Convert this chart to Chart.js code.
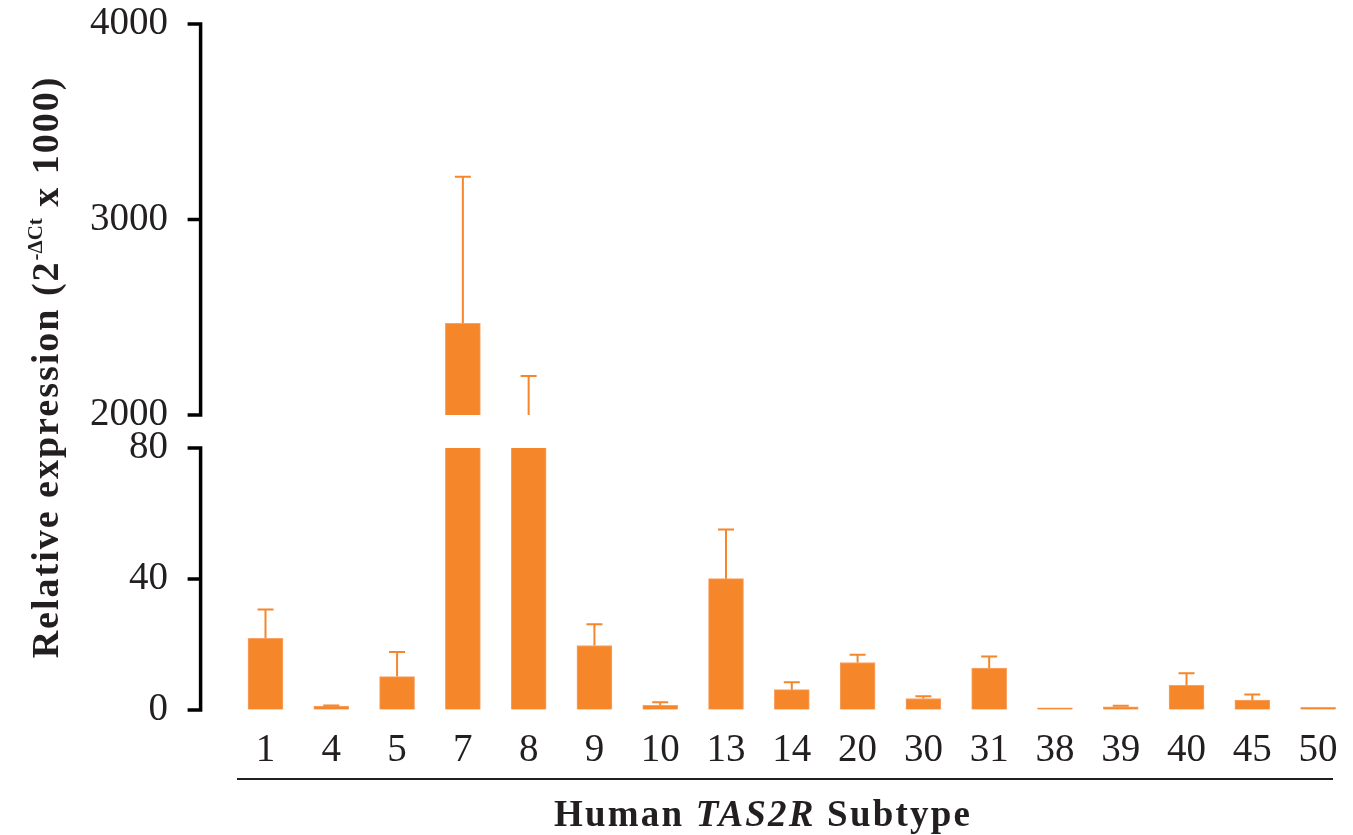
<!DOCTYPE html>
<html>
<head>
<meta charset="utf-8">
<script src="https://cdn.jsdelivr.net/npm/chart.js@4/dist/chart.umd.min.js"></script>
<style>
  html, body { margin: 0; padding: 0; background: #fff; }
  body { width: 1353px; height: 835px; position: relative; overflow: hidden; font-family: 'Liberation Serif', 'Times New Roman', serif; color: #231f20; }
  .box { position: absolute; left: 0; width: 1353px; }
  #top-box { top: 0; height: 440px; }
  #bottom-box { top: 400px; height: 435px; }
  #y-title { position: absolute; left: -265px; top: 342px; width: 600px; height: 50px; line-height: 50px;
             text-align: center; font-weight: bold; font-size: 38px; letter-spacing: 2px; transform: rotate(-90deg); white-space: nowrap; }
  #y-title sup { font-size: 0.55em; vertical-align: 0.75em; letter-spacing: 0; }
  #x-title { position: absolute; left: 463px; top: 794px; width: 600px; line-height: 40px; text-align: center;
             font-weight: bold; font-size: 37px; letter-spacing: 2.2px; white-space: nowrap; }
  #x-line { position: absolute; left: 237px; top: 778px; width: 1096px; height: 2px; background: #231f20; }
</style>
</head>
<body>
<div class="box" id="top-box"><canvas id="chart-top"></canvas></div>
<div class="box" id="bottom-box"><canvas id="chart-bottom"></canvas></div>
<div id="y-title">Relative expression (2<sup>-ΔCt</sup> x 1000)</div>
<div id="x-line"></div>
<div id="x-title">Human <i>TAS2R</i> Subtype</div>
<script>
// sous-types TAS2R et expression relative (moyenne + erreur)
const subtypes = ['1', '4', '5', '7', '8', '9', '10', '13', '14', '20', '30', '31', '38', '39', '40', '45', '50'];
const expression = [21.9, 1.2, 10.2, 2469, 1950, 19.7, 1.4, 40.1, 6.2, 14.5, 3.5, 12.8, 0.7, 1.0, 7.5, 3.0, 0.8];
const errors     = [8.8, 0.2, 7.5, 750, 249, 6.5, 1.0, 15.0, 2.3, 2.4, 0.7, 3.5, 0, 0.3, 3.7, 1.7, 0];

// axe coupé : deux segments
const upperTicks = [2000, 3000, 4000];
const lowerTicks = [0, 40, 80];

const orange = '#F5862A';
const orangeEdge = '#F8A266';
const ink = '#231f20';
const tickFont = { family: 'Liberation Serif', size: 39 };

// barres d'erreur (un seul côté, vers le haut)
const errorBars = {
  id: 'errorBars',
  afterDatasetsDraw(chart) {
    const { ctx, chartArea, scales: { x, y } } = chart;
    ctx.save();
    ctx.beginPath();
    ctx.rect(chartArea.left, chartArea.top - 2, chartArea.width, chartArea.height + 2);
    ctx.clip();
    ctx.strokeStyle = orange;
    ctx.lineWidth = 2;
    expression.forEach((v, i) => {
      const top = v + errors[i];
      if (errors[i] <= 0 || top <= y.min) return;
      const px = x.getPixelForValue(i);
      const y0 = y.getPixelForValue(Math.max(v, y.min));
      const y1 = y.getPixelForValue(top);
      ctx.beginPath();
      ctx.moveTo(px, y0);
      ctx.lineTo(px, y1);
      if (top <= y.max) {
        ctx.moveTo(px - 8, y1);
        ctx.lineTo(px + 8, y1);
      }
      ctx.stroke();
    });
    ctx.restore();
  }
};

// trait vertical de l'axe Y, décalé à gauche de la zone de tracé
const yAxisLine = {
  id: 'yAxisLine',
  afterDraw(chart) {
    const { ctx, chartArea, scales: { y } } = chart;
    const ax = chartArea.left - 32;
    ctx.save();
    ctx.strokeStyle = '#000';
    ctx.lineWidth = 3.5;
    ctx.beginPath();
    ctx.moveTo(ax, y.getPixelForValue(y.max) - 1.75);
    ctx.lineTo(ax, y.getPixelForValue(y.min) + 1.75);
    y.ticks.forEach(t => {
      const py = y.getPixelForValue(t.value);
      ctx.moveTo(ax - 13, py);
      ctx.lineTo(ax + 1.75, py);
    });
    ctx.stroke();
    ctx.restore();
  }
};

function makeChart(id, ticks, showX, padding) {
  return new Chart(document.getElementById(id), {
    type: 'bar',
    data: {
      labels: subtypes,
      datasets: [{
        data: expression,
        backgroundColor: orange,
        borderColor: orangeEdge,
        borderWidth: 1,
        barThickness: 35,
        clip: 0
      }]
    },
    options: {
      responsive: true,
      maintainAspectRatio: false,
      animation: false,
      layout: { padding },
      plugins: { legend: { display: false }, tooltip: { enabled: false } },
      scales: {
        x: {
          type: 'category',
          offset: true,
          display: showX,
          grid: { display: false },
          border: { display: false },
          ticks: { font: tickFont, color: ink, padding: 9, autoSkip: false, maxRotation: 0 },
          afterFit: s => { if (showX) s.height = 60; }
        },
        y: {
          min: ticks[0],
          max: ticks[ticks.length - 1],
          afterBuildTicks: s => { s.ticks = ticks.map(v => ({ value: v })); },
          afterFit: s => { s.width = 232.6; },
          // marques invisibles : elles servent juste à écarter les étiquettes
          grid: { display: true, drawOnChartArea: false, drawTicks: true, tickLength: 64.6, tickColor: 'rgba(0,0,0,0)' },
          border: { display: false },
          ticks: { font: tickFont, color: ink, padding: 0, callback: v => String(v) }
        }
      }
    },
    plugins: [errorBars, yAxisLine]
  });
}

makeChart('chart-top', upperTicks, false, { top: 24, bottom: 25, left: 0, right: 2 });
makeChart('chart-bottom', lowerTicks, true, { top: 48, bottom: 65, left: 0, right: 2 });
</script>
</body>
</html>
